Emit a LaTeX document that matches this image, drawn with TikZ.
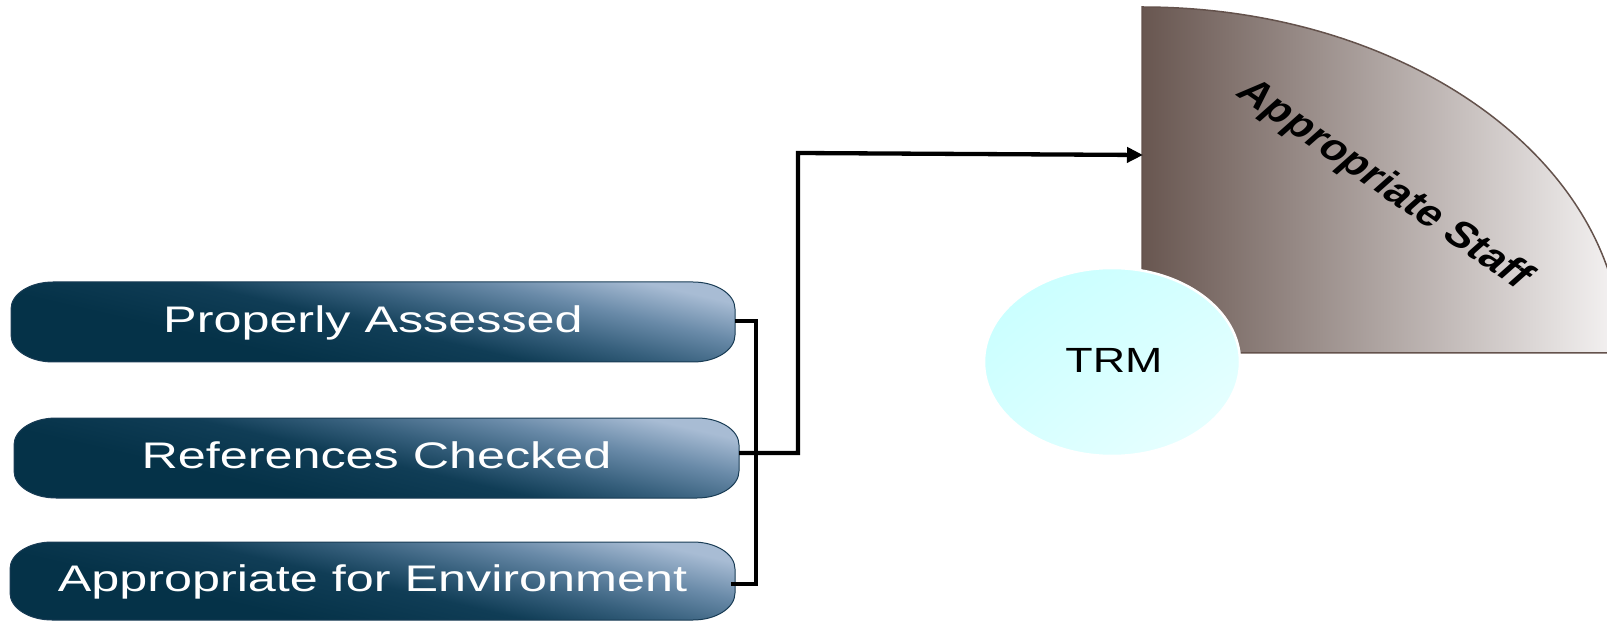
\documentclass[tikz,border=0pt]{standalone}
\usepackage{fontspec}
\usepackage{graphicx}
\setmainfont{Liberation Sans}
\usetikzlibrary{arrows.meta,calc,shadings}
\definecolor{boxdark}{RGB}{5,50,72}
\definecolor{boxdarkb}{RGB}{16,61,86}
\definecolor{boxmid}{RGB}{55,96,125}
\definecolor{boxmidb}{RGB}{105,138,168}
\definecolor{boxlight}{RGB}{168,188,212}
\definecolor{boxline}{RGB}{25,60,85}
\definecolor{piedark}{RGB}{104,86,80}
\definecolor{pielight}{RGB}{246,244,244}
\definecolor{pieline}{RGB}{100,82,76}
\definecolor{trmA}{RGB}{198,255,255}
\definecolor{trmB}{RGB}{214,255,255}
\definecolor{trmC}{RGB}{236,255,255}
\pgfdeclareverticalshading{boxsh}{100bp}{color(0bp)=(boxdark); color(46.5bp)=(boxdark); color(49.8bp)=(boxdarkb); color(51.9bp)=(boxmid); color(54.2bp)=(boxmidb); color(56.6bp)=(boxlight); color(100bp)=(boxlight)}
% pill with elliptic corners: x1 x2 ybottom ytop
\def\pillpath#1#2#3#4{(#1+42,#4) -- (#2-42,#4) arc[start angle=90,end angle=0,x radius=42pt,y radius=27pt] -- (#2,#3+27) arc[start angle=0,end angle=-90,x radius=42pt,y radius=27pt] -- (#1+42,#3) arc[start angle=270,end angle=180,x radius=42pt,y radius=27pt] -- (#1,#4-27) arc[start angle=180,end angle=90,x radius=42pt,y radius=27pt] -- cycle}
\def\pillbox#1#2#3#4{%
  \begin{scope}
    \clip \pillpath{#1}{#2}{#3}{#4};
    \shade[shading=boxsh, shading angle=-13] ({(#1+#2)/2-380},{(#3+#4)/2-380}) rectangle ({(#1+#2)/2+380},{(#3+#4)/2+380});
  \end{scope}
  \draw[boxline, line width=1pt] \pillpath{#1}{#2}{#3}{#4};}
\begin{document}
\begin{tikzpicture}[x=1pt,y=1pt,
  boxlabel/.style={text=white, font=\fontsize{37}{40}\selectfont, inner sep=0pt, text height=27pt, text depth=6pt},
  conn/.style={line width=4.3pt, black}]
\useasboundingbox (0,0) rectangle (1607,622);
\clip (0,0) rectangle (1607,622);
% quarter shape
\shade[left color=piedark, right color=pielight] (1142,615) arc[start angle=90,end angle=0,x radius=480pt,y radius=346pt] -- (1142,269) -- cycle;
\draw[pieline, line width=1.5pt] (1142,615) arc[start angle=90,end angle=0,x radius=480pt,y radius=346pt] -- (1142,269) -- cycle;
\begin{scope}[shift={(1384,437)}, xscale=1.28]
  \node[rotate=-41.4, transform shape, font=\bfseries\fontsize{36}{38}\selectfont, inner sep=0pt] (staff) at (0,0) {Appropriate Staff};
\end{scope}
% TRM
\shadedraw[upper left=trmA, lower left=trmB, upper right=trmB, lower right=trmC, draw=white, line width=2.5pt] (1112,260) ellipse [x radius=128pt, y radius=94pt];
\node[anchor=base, font=\fontsize{35}{38}\selectfont, inner sep=0pt] (trm) at (1114,249) {\scalebox{1.28}[1]{TRM}};
% boxes
\pillbox{11}{735}{260}{340}
\pillbox{14}{739}{124}{204}
\pillbox{10}{735}{2}{80}
\node[boxlabel, minimum width=724pt] (b1) at (373,300) {\scalebox{1.36}[1]{Properly Assessed}};
\node[boxlabel, minimum width=725pt] (b2) at (376.5,164) {\scalebox{1.36}[1]{References Checked}};
\node[boxlabel, minimum width=725pt] (b3) at (372.5,41) {\scalebox{1.36}[1]{Appropriate for Environment}};
% connectors
\coordinate (s1) at ($(b1.east)+(0,1)$);
\coordinate (s2) at ($(b2.east)+(0,5)$);
\coordinate (s3) at ($(b3.east)+(-4,-3)$);
\coordinate (bus) at (756,0);
\coordinate (turn) at (798,469);
\coordinate (tip) at (1143,467);
\draw[conn] (s1) -- (s1 -| bus) -- (s3 -| bus) -- (s3);
\draw[conn, -{Triangle[length=16pt,width=15pt]}] (s2) -| (turn) -- (tip);
\end{tikzpicture}
\end{document}
